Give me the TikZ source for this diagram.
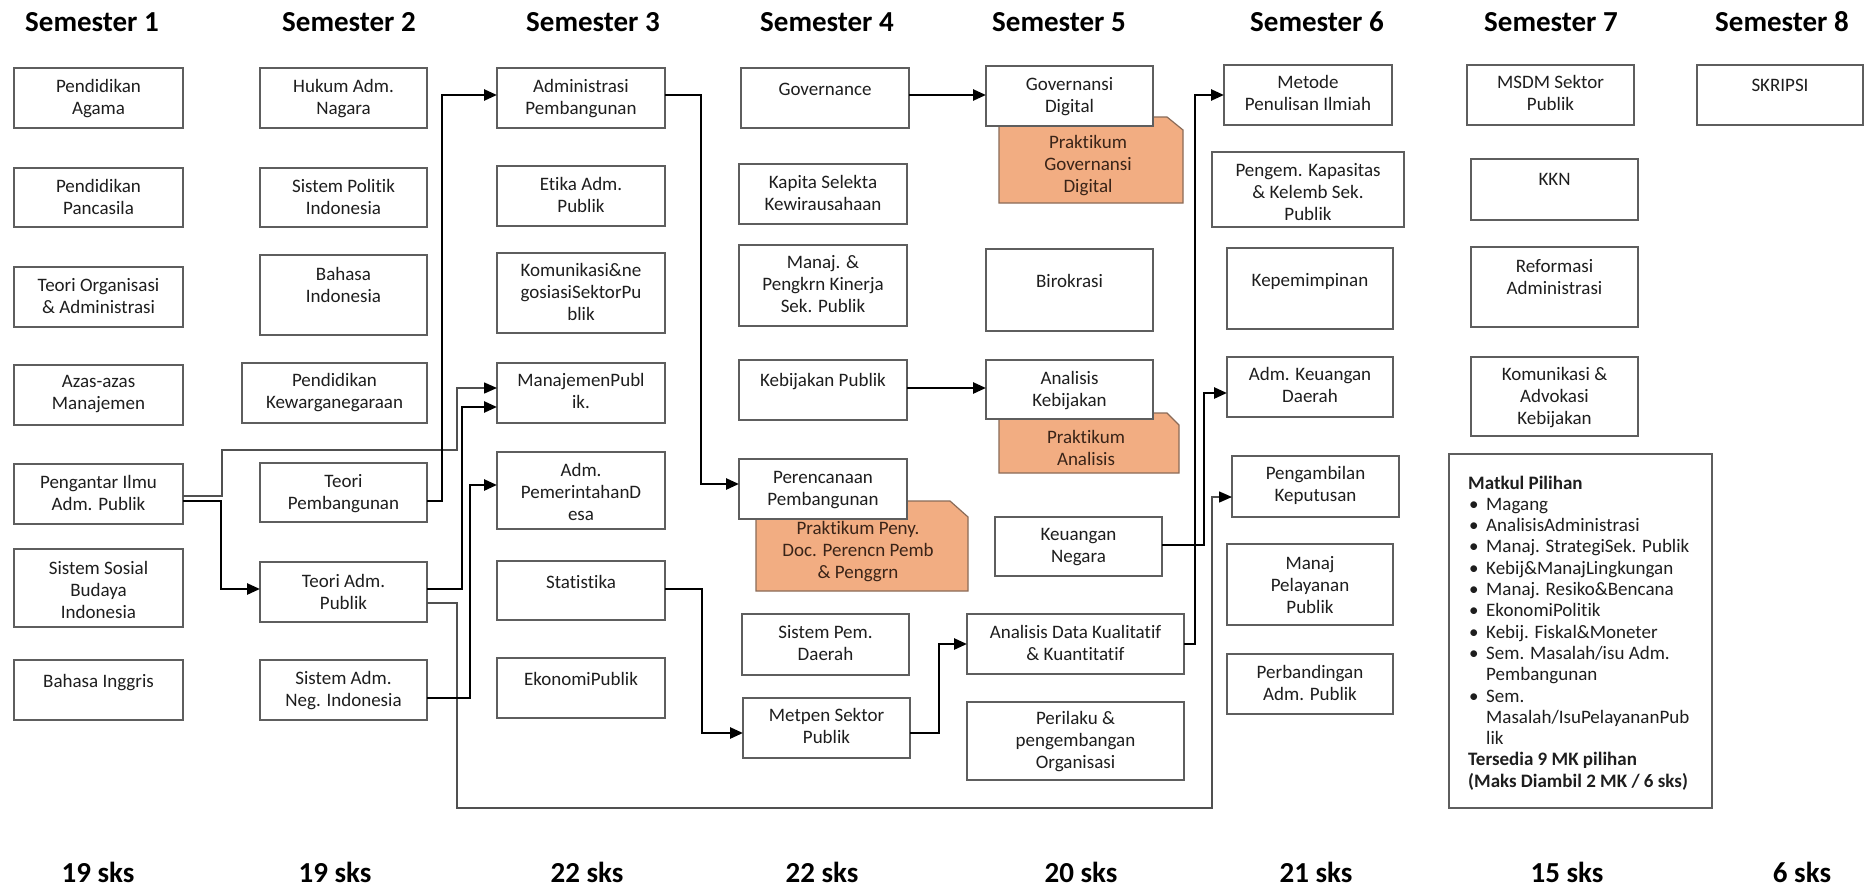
\documentclass[tikz,border=0pt]{standalone}
\usepackage{fontspec}
\setmainfont{Carlito}[Ligatures=NoCommon]
\usetikzlibrary{arrows.meta}
\definecolor{boxgray}{HTML}{5E5E5E}
\definecolor{txtc}{HTML}{1E1E1E}
\definecolor{orng}{HTML}{F2AD82}
\definecolor{orngline}{HTML}{8A6B58}
\definecolor{thingray}{HTML}{505050}
\definecolor{prtxt}{HTML}{3A2418}
\newcommand\course[7]{%
  \node[box, minimum width={#4-#2}, minimum height={#5-#3}] (#1) at (#2,#3) {};
  \node[txt] (#1t) at ({(#2+#4)/2}, {#6-7.5}) {#7};
}
\newcommand\bul{\makebox[18pt][l]{\hspace{1pt}•}}
\newcommand\ind{\hspace*{18pt}}
\tikzset{
  box/.style={draw=boxgray, line width=1.6pt, fill=white, inner sep=0pt, outer sep=0pt, anchor=north west},
  txt/.style={anchor=north, inner sep=0pt, align=center, text=txtc, font=\fontsize{19}{22}\selectfont},
  head/.style={anchor=base, inner sep=0pt, text=black, font=\bfseries\fontsize{29}{34}\selectfont},
  thickc/.style={line width=2.6pt, -{Triangle[length=13pt,width=11pt]}},
  thinc/.style={line width=1.5pt, draw=thingray, -{Triangle[length=13pt,width=11pt,color=black]}},
  prak/.style={fill=orng, draw=orngline, line width=1.2pt},
  prtext/.style={txt, text=prtxt},
}
\begin{document}
\begin{tikzpicture}[x=1pt, y=-1pt]
\useasboundingbox (0,0) rectangle (1872,886);
\fill[white] (0,0) rectangle (1872,886);

% headers
\node[head] (h1) at (92,31) {Semester 1};
\node[head] (h2) at (349,31) {Semester 2};
\node[head] (h3) at (593,31) {Semester 3};
\node[head] (h4) at (827,31) {Semester 4};
\node[head] (h5) at (1059,31) {Semester 5};
\node[head] (h6) at (1317,31) {Semester 6};
\node[head] (h7) at (1551,31) {Semester 7};
\node[head] (h8) at (1782,31) {Semester 8};

% bottom sks
\node[head] (k1) at (98,882) {19 sks};
\node[head] (k2) at (335,882) {19 sks};
\node[head] (k3) at (587,882) {22 sks};
\node[head] (k4) at (822,882) {22 sks};
\node[head] (k5) at (1081,882) {20 sks};
\node[head] (k6) at (1316,882) {21 sks};
\node[head] (k7) at (1567,882) {15 sks};
\node[head] (k8) at (1802,882) {6 sks};

% orange practicum shapes (behind boxes)
\path[prak] (999,117) -- (1167,117) -- (1183,130) -- (1183,203) -- (999,203) -- cycle;
\path[prak] (999,413) -- (1167,413) -- (1179,425) -- (1179,473) -- (999,473) -- cycle;
\path[prak] (756,501) -- (950,501) -- (968,517) -- (968,591) -- (756,591) -- cycle;
\node[prtext] (p1) at (1088,135.5) {Praktikum\\Governansi\\Digital};
\node[prtext] (p2) at (1086,430.5) {Praktikum\\Analisis};
\node[prtext] (p3) at (858,521.5) {Praktikum Peny.\\Doc. Perencn Pemb\\\& Penggrn};

% Semester 1
\course{s1a}{14}{68}{183}{128}{87}{Pendidikan\\Agama}
\course{s1b}{14}{168}{183}{227}{187}{Pendidikan\\Pancasila}
\course{s1c}{14}{267}{183}{327}{286}{Teori Organisasi\\\& Administrasi}
\course{s1d}{14}{365}{183}{425}{383}{Azas-azas\\Manajemen}
\course{s1e}{14}{464}{183}{524}{483}{Pengantar Ilmu\\Adm. Publik}
\course{s1f}{14}{549}{183}{627}{569}{Sistem Sosial\\Budaya\\Indonesia}
\course{s1g}{14}{660}{183}{720}{682}{Bahasa Inggris}

% Semester 2
\course{s2a}{260}{68}{427}{128}{87}{Hukum Adm.\\Nagara}
\course{s2b}{260}{168}{427}{227}{187}{Sistem Politik\\Indonesia}
\course{s2c}{260}{255}{427}{335}{275}{Bahasa\\Indonesia}
\course{s2d}{242}{363}{427}{423}{381}{Pendidikan\\Kewarganegaraan}
\course{s2e}{260}{463}{427}{522}{482}{Teori\\Pembangunan}
\course{s2f}{260}{562}{427}{622}{582}{Teori Adm.\\Publik}
\course{s2g}{260}{660}{427}{720}{679}{Sistem Adm.\\Neg. Indonesia}

% Semester 3
\course{s3a}{497}{68}{665}{128}{87}{Administrasi\\Pembangunan}
\course{s3b}{497}{166}{665}{226}{185}{Etika Adm.\\Publik}
\course{s3c}{497}{253}{665}{333}{271}{Komunikasi\&ne\\gosiasiSektorPu\\blik}
\course{s3d}{497}{363}{665}{423}{381}{ManajemenPubl\\ik.}
\course{s3e}{497}{452}{665}{529}{471}{Adm.\\PemerintahanD\\esa}
\course{s3f}{497}{561}{665}{620}{583}{Statistika}
\course{s3g}{497}{658}{665}{718}{680}{EkonomiPublik}

% Semester 4
\course{s4a}{741}{68}{909}{128}{90}{Governance}
\course{s4b}{739}{164}{907}{224}{183}{Kapita Selekta\\Kewirausahaan}
\course{s4c}{739}{245}{907}{326}{263}{Manaj. \&\\Pengkrn Kinerja\\Sek. Publik}
\course{s4d}{739}{360}{907}{420}{381}{Kebijakan Publik}
\course{s4e}{739}{459}{907}{519}{479}{Perencanaan\\Pembangunan}
\course{s4f}{742}{614}{909}{675}{633}{Sistem Pem.\\Daerah}
\course{s4g}{743}{698}{910}{758}{716}{Metpen Sektor\\Publik}

% Semester 5
\course{s5a}{986}{66}{1153}{126}{85}{Governansi\\Digital}
\course{s5b}{986}{249}{1153}{331}{282}{Birokrasi}
\course{s5c}{986}{360}{1153}{419}{379}{Analisis\\Kebijakan}
\course{s5d}{995}{517}{1162}{576}{536}{Keuangan\\Negara}
\course{s5e}{967}{614}{1184}{674}{633}{Analisis Data Kualitatif\\\& Kuantitatif}
\course{s5f}{967}{702}{1184}{780}{719}{Perilaku \&\\pengembangan\\Organisasi}

% Semester 6
\course{s6a}{1224}{65}{1392}{125}{83}{Metode\\Penulisan Ilmiah}
\course{s6b}{1212}{152}{1404}{227}{171}{Pengem. Kapasitas\\\& Kelemb Sek.\\Publik}
\course{s6c}{1227}{248}{1393}{329}{281}{Kepemimpinan}
\course{s6d}{1227}{357}{1393}{417}{375}{Adm. Keuangan\\Daerah}
\course{s6e}{1232}{456}{1399}{517}{474}{Pengambilan\\Keputusan}
\course{s6f}{1227}{544}{1393}{625}{564}{Manaj\\Pelayanan\\Publik}
\course{s6g}{1227}{654}{1393}{714}{673}{Perbandingan\\Adm. Publik}

% Semester 7
\course{s7a}{1467}{65}{1634}{125}{83}{MSDM Sektor\\Publik}
\course{s7b}{1471}{159}{1638}{220}{181}{KKN}
\course{s7c}{1471}{247}{1638}{327}{267}{Reformasi\\Administrasi}
\course{s7d}{1471}{357}{1638}{436}{375}{Komunikasi \&\\Advokasi\\Kebijakan}

% Matkul pilihan
\node[box, minimum width=263, minimum height=354] (pil) at (1449,454) {};
\node[anchor=north west, inner sep=0pt, align=left, text=txtc, font=\fontsize{19}{21.3}\selectfont] (pilt) at (1468,475.5)
{\textbf{Matkul Pilihan}\\
\bul Magang\\
\bul AnalisisAdministrasi\\
\bul Manaj. StrategiSek. Publik\\
\bul Kebij\&ManajLingkungan\\
\bul Manaj. Resiko\&Bencana\\
\bul EkonomiPolitik\\
\bul Kebij. Fiskal\&Moneter\\
\bul Sem. Masalah/isu Adm.\\
\ind Pembangunan\\
\bul Sem.\\
\ind Masalah/IsuPelayananPub\\
\ind lik\\
\textbf{Tersedia 9 MK pilihan}\\
\textbf{(Maks Diambil 2 MK / 6 sks)}};

% Semester 8
\course{s8a}{1697}{65}{1863}{125}{86}{SKRIPSI}

% connectors
\draw[thinc] ([yshift=-2pt]s1e.east) -- (222,496) -- (222,450) -- (457,450) -- (457,388) -- ([yshift=5pt]s3d.west);
\draw[thickc] ([yshift=-7pt]s1e.east) -- (221,501) -- (221,589) -- ([yshift=3pt]s2f.west);
\draw[thickc] ([yshift=-8.5pt]s2e.east) -- (442,501) -- (442,95) -- ([yshift=3pt]s3a.west);
\draw[thickc] ([yshift=3pt]s2f.east) -- (462,589) -- (462,407) -- ([yshift=-14pt]s3d.west);
\draw[thinc] ([yshift=-11pt]s2f.east) -- (457,603) -- (457,808) -- (1212,808) -- (1212,497) -- ([yshift=-10.5pt]s6e.west);
\draw[thickc] ([yshift=-8pt]s2g.east) -- (470,698) -- (470,485) -- ([yshift=5.5pt]s3e.west);
\draw[thickc] ([yshift=3pt]s3a.east) -- (701,95) -- (701,484) -- ([yshift=5pt]s4e.west);
\draw[thickc] ([yshift=1.5pt]s3f.east) -- (702,589) -- (702,733) -- ([yshift=-5pt]s4g.west);
\draw[thickc] ([yshift=3pt]s4a.east) -- ([yshift=1pt]s5a.west);
\draw[thickc] ([yshift=2pt]s4d.east) -- ([yshift=1.5pt]s5c.west);
\draw[thickc] ([yshift=-5pt]s4g.east) -- (939,733) -- (939,644) -- (s5e.west);
\draw[thickc] (s5e.east) -- (1195,644) -- (1195,95) -- (s6a.west);
\draw[thickc] ([yshift=1.5pt]s5d.east) -- (1204,545) -- (1204,393) -- ([yshift=-6pt]s6d.west);
\end{tikzpicture}
\end{document}
